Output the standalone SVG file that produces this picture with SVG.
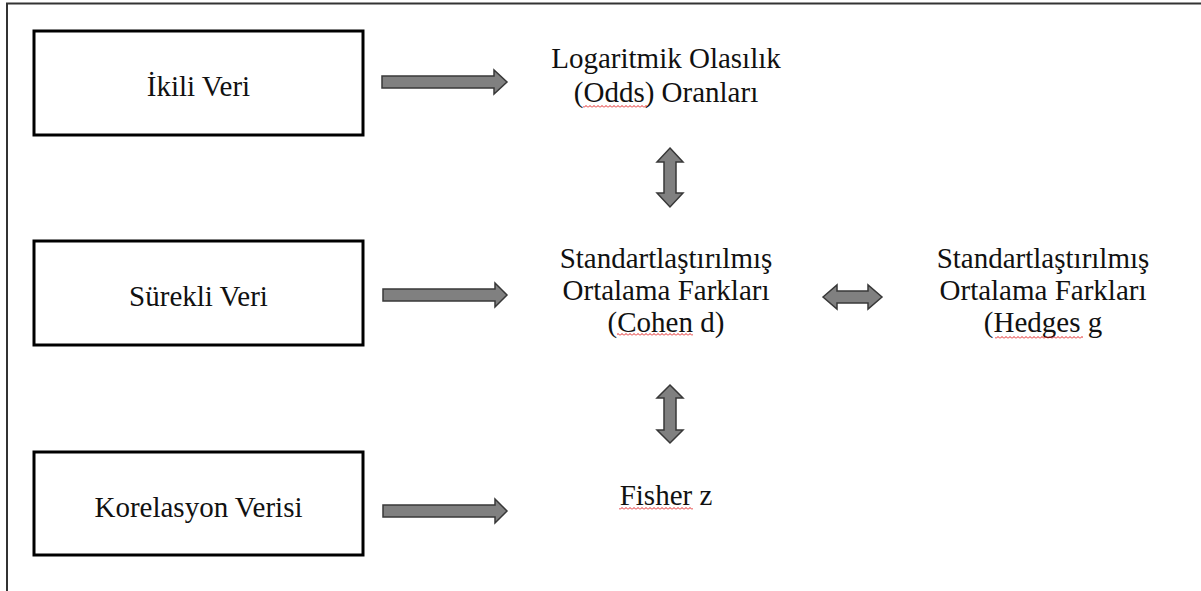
<svg xmlns="http://www.w3.org/2000/svg" width="1201" height="591" viewBox="0 0 1201 591">
<style>
.box{fill:#fff;stroke:#000;stroke-width:3}
.t{font-family:"Liberation Serif","Times New Roman",serif;font-size:29px;fill:#111;text-anchor:middle}
.arr{fill:#808080;stroke:#383838;stroke-width:1.5;stroke-linejoin:miter}
.frame{stroke:#333;stroke-width:2;fill:none}
</style>
<defs>
<pattern id="wave" patternUnits="userSpaceOnUse" width="4" height="3">
<path d="M0 2.5 L2 0.5 L4 2.5" fill="none" stroke="#e02020" stroke-width="1"/>
</pattern>
</defs>
<rect width="1201" height="591" fill="#fff"/>
<path class="frame" d="M7 591 V3.5 H1201"/>

<g id="node-ikili">
<rect class="box" x="34" y="31" width="329" height="104"/>
<text class="t" x="198.5" y="96">İkili Veri</text>
</g>
<g id="node-surekli">
<rect class="box" x="34" y="241" width="329" height="104"/>
<text class="t" x="198.5" y="306">Sürekli Veri</text>
</g>
<g id="node-korelasyon">
<rect class="box" x="34" y="452" width="329" height="103"/>
<text class="t" x="198.5" y="517">Korelasyon Verisi</text>
</g>
<g id="node-log">
<text class="t" x="666" y="68">Logaritmik Olasılık</text>
<text class="t" x="666" y="102">(Odds) Oranları</text>
<rect x="583" y="105" width="64" height="3" fill="url(#wave)"/>
</g>
<g id="node-cohen">
<text class="t" x="666" y="268">Standartlaştırılmış</text>
<text class="t" x="666" y="300">Ortalama Farkları</text>
<text class="t" x="666" y="332">(Cohen d)</text>
<rect x="617" y="333" width="76" height="3" fill="url(#wave)"/>
</g>
<g id="node-hedges">
<text class="t" x="1043" y="268">Standartlaştırılmış</text>
<text class="t" x="1043" y="300">Ortalama Farkları</text>
<text class="t" x="1043" y="332">(Hedges g</text>
<rect x="995" y="336" width="88" height="3" fill="url(#wave)"/>
</g>
<g id="node-fisher">
<text class="t" x="666" y="505">Fisher z</text>
<rect x="619" y="507" width="74" height="3" fill="url(#wave)"/>
</g>

<g id="connectors">
<path class="arr" d="M382 76 H494 V70 L507 82 L494 94 V88 H382 Z"/>
<path class="arr" d="M383 289 H495 V283 L507 295 L495 307 V301 H383 Z"/>
<path class="arr" d="M383 505 H495 V499 L507 511 L495 523 V517 H383 Z"/>
<path class="arr" d="M670 148 L683 162 H676 V193 H683 L670 207 L657 193 H664 V162 H657 Z"/>
<path class="arr" d="M670 385 L683 398 H676 V430 H683 L670 443 L657 430 H664 V398 H657 Z"/>
<path class="arr" d="M823 297 L837 285 V291 H868 V285 L882 297 L868 309 V303 H837 V309 Z"/>
</g>
</svg>
